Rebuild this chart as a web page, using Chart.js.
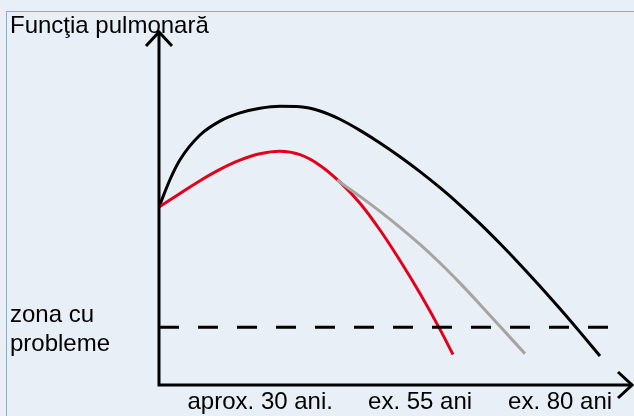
<!DOCTYPE html>
<html>
<head>
<meta charset="utf-8">
<script src="https://cdn.jsdelivr.net/npm/chart.js@4.4.1/dist/chart.umd.min.js"></script>
<style>
  html, body { margin: 0; padding: 0; background: #e8eff6; }
  #wrap { position: relative; width: 634px; height: 416px; overflow: hidden; }
  #frame { position: absolute; left: 6px; top: 11px; width: 700px; height: 500px;
           border-top: 1px solid #7fb0d0; border-left: 1px solid #7fb0d0; }
  canvas { position: absolute; left: 0; top: 0; }
</style>
</head>
<body>
<div id="wrap">
  <div id="frame"></div>
  <canvas id="c" width="634" height="416"></canvas>
</div>
<script>
// ---- data (arbitrary units: x = time of life, y = lung function) ----
const titleText = "Funcţia pulmonară";
const xTickValues = [21.4, 55.2, 84.8];
const xTickLabels = ["aprox. 30 ani.", "ex. 55 ani", "ex. 80 ani"];
const yTickValues = [17.8];
const yTickLabels = [["zona cu", "probleme"]];

const blackX = [0, 2.33, 4.44, 8.67, 12.90, 17.12, 21.35, 25.58, 29.81, 34.04, 38.27, 42.49, 46.72, 50.95, 55.18, 59.41, 63.64, 67.86, 72.09, 76.32, 80.55, 84.78, 89.01, 93.23];
const blackY = [54.77, 63.23, 69.31, 76.92, 81.20, 83.71, 85.14, 85.75, 85.62, 84.32, 81.77, 78.35, 74.48, 70.24, 65.66, 60.71, 55.38, 49.65, 43.52, 37.09, 30.38, 23.43, 16.26, 8.91];

const redX = [0, 4.44, 8.67, 12.90, 17.12, 21.35, 25.58, 29.81, 34.04, 38.27, 42.49, 46.72, 50.95, 55.18, 59.41, 62.16];
const redY = [54.77, 58.95, 62.86, 66.34, 69.17, 71.14, 71.91, 70.86, 67.57, 62.43, 55.94, 47.69, 38.29, 28.14, 17.12, 9.38];

const grayX = [37.63, 42.49, 46.72, 50.95, 55.18, 59.41, 63.64, 67.86, 72.09, 77.38];
const grayY = [63.08, 58.03, 53.42, 48.52, 43.26, 37.54, 31.35, 24.80, 18.06, 9.60];

const thresholdX = [0, 95.6];
const thresholdY = [17.8, 17.8];

const pts = (xs, ys) => xs.map((x, i) => ({ x: x, y: ys[i] }));

const FONT = "'Liberation Sans', Arial, sans-serif";

const axesPlugin = {
  id: 'arrowAxes',
  afterDatasetsDraw(chart) {
    const ctx = chart.ctx;
    const xs = chart.scales.x, ys = chart.scales.y;
    const ox = xs.getPixelForValue(0);
    const oy = ys.getPixelForValue(0);
    const right = xs.getPixelForValue(xs.max);
    const top = chart.chartArea.top - 28;
    ctx.save();
    ctx.strokeStyle = '#000';
    ctx.lineWidth = 3;
    ctx.lineCap = 'butt';
    ctx.lineJoin = 'miter';
    ctx.beginPath();
    ctx.moveTo(ox, top);
    ctx.lineTo(ox, oy);
    ctx.lineTo(right, oy);
    ctx.stroke();
    ctx.beginPath();
    ctx.moveTo(ox - 13, top + 14);
    ctx.lineTo(ox, top);
    ctx.lineTo(ox + 13, top + 14);
    ctx.stroke();
    ctx.beginPath();
    ctx.moveTo(right - 14, oy - 13);
    ctx.lineTo(right, oy);
    ctx.lineTo(right - 14, oy + 13);
    ctx.stroke();
    ctx.restore();
  }
};

new Chart(document.getElementById('c'), {
  type: 'line',
  data: {
    datasets: [
      { data: pts(thresholdX, thresholdY), borderColor: '#000', borderWidth: 3, borderDash: [20, 19], tension: 0 },
      { data: pts(grayX, grayY), borderColor: '#a7a4a0', borderWidth: 3, cubicInterpolationMode: 'monotone' },
      { data: pts(redX, redY), borderColor: '#e3001b', borderWidth: 3, cubicInterpolationMode: 'monotone' },
      { data: pts(blackX, blackY), borderColor: '#000', borderWidth: 3, cubicInterpolationMode: 'monotone' }
    ]
  },
  options: {
    responsive: false,
    animation: false,
    events: [],
    layout: { padding: { left: 10, right: 2, top: 0, bottom: 0 } },
    elements: { point: { radius: 0 }, line: { borderCapStyle: 'butt', fill: false } },
    plugins: {
      legend: { display: false },
      tooltip: { enabled: false },
      title: {
        display: true,
        text: titleText,
        align: 'start',
        color: '#000',
        font: { family: FONT, size: 24, weight: 'normal', lineHeight: 1.2 },
        padding: { top: 12, bottom: 19.2 }
      }
    },
    scales: {
      x: {
        type: 'linear',
        min: 0, max: 100,
        grid: { display: false, drawTicks: false },
        border: { display: false },
        afterBuildTicks: (s) => { s.ticks = xTickValues.map(v => ({ value: v })); },
        afterFit: (s) => { s.height = 31; },
        ticks: {
          color: '#000',
          padding: 3,
          maxRotation: 0,
          autoSkip: false,
          font: { family: FONT, size: 24 },
          callback: (v, i) => xTickLabels[i]
        }
      },
      y: {
        type: 'linear',
        min: 0, max: 100,
        grid: { display: false, drawTicks: false },
        border: { display: false },
        afterBuildTicks: (s) => { s.ticks = yTickValues.map(v => ({ value: v })); },
        afterFit: (s) => { s.width = 149; },
        ticks: {
          color: '#000',
          crossAlign: 'far',
          padding: 0,
          labelOffset: 3,
          autoSkip: false,
          font: { family: FONT, size: 24, lineHeight: 1.2 },
          callback: (v, i) => yTickLabels[i]
        }
      }
    }
  },
  plugins: [axesPlugin]
});
</script>
</body>
</html>
